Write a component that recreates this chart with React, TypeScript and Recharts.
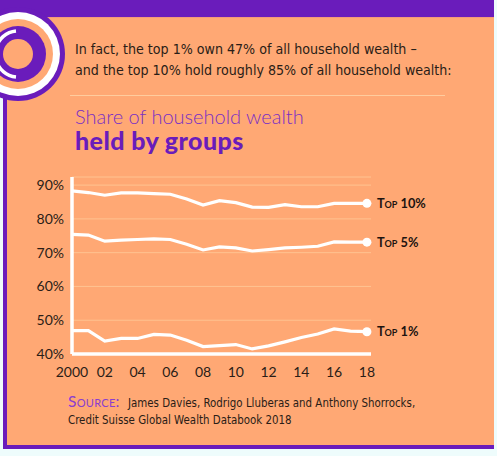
import React from 'react'
import { LineChart, Line, XAxis, YAxis, CartesianGrid } from 'recharts'

const years = [2000, 2001, 2002, 2003, 2004, 2005, 2006, 2007, 2008, 2009, 2010, 2011, 2012, 2013, 2014, 2015, 2016, 2017, 2018]
const top10 = [88.3, 87.8, 87.0, 87.7, 87.7, 87.5, 87.3, 85.9, 84.1, 85.4, 84.8, 83.5, 83.4, 84.2, 83.6, 83.6, 84.6, 84.6, 84.6]
const top5 = [75.4, 75.2, 73.4, 73.7, 73.9, 74.1, 73.9, 72.5, 70.8, 71.7, 71.4, 70.5, 70.9, 71.4, 71.6, 71.9, 73.2, 73.1, 73.1]
const top1 = [46.9, 46.9, 43.8, 44.6, 44.6, 45.8, 45.6, 44.1, 42.2, 42.5, 42.8, 41.5, 42.4, 43.6, 44.9, 45.9, 47.4, 46.8, 46.6]

const xTicks = [2000, 2002, 2004, 2006, 2008, 2010, 2012, 2014, 2016, 2018]
const yTicks = [40, 50, 60, 70, 80, 90]

const ORANGE = '#FFA874'
const PURPLE = '#6A1CBB'
const INK = '#2a1d17'
const BG = '#EEFCFC'
const NARROW = "'DejaVu Sans Condensed', 'DejaVu Sans', sans-serif"

const data = years.map((year, i) => ({ year, top10: top10[i], top5: top5[i], top1: top1[i] }))

const fmtYear = (y: number) => (y === 2000 ? '2000' : String(y).slice(2))

// only the last point gets a dot and its label
const endDot = (label: string) => (props: any) => {
  const { cx, cy, index } = props
  if (index !== years.length - 1) return <g key={`${label}-${index}`} />
  return (
    <g key={`${label}-${index}`}>
      <circle cx={cx} cy={cy} r={4.5} fill="#fff" />
      <text x={cx + 10} y={cy} dy="0.36em" fill="#1d1410" fontSize={12.8} fontWeight={700}
        fontFamily="Lato, sans-serif" style={{ fontVariant: 'small-caps' }}>{label}</text>
    </g>
  )
}

function Backdrop() {
  return (
    <svg width={497} height={456} style={{ position: 'absolute', left: 0, top: 0 }}>
      <rect x={0} y={0} width={497} height={456} fill={BG} />
      <rect x={3} y={17} width={491} height={432} fill={PURPLE} />
      <rect x={7} y={17} width={487} height={428} fill={ORANGE} />
      <rect x={0} y={0} width={494} height={17} fill={PURPLE} />
      <line x1={7} y1={17.5} x2={494} y2={17.5} stroke="#f39a7a" strokeWidth={1} />
      {/* round badge, top left */}
      <circle cx={18} cy={54} r={47} fill={PURPLE} />
      <circle cx={18} cy={54} r={42} fill="#fff" />
      <circle cx={18} cy={54} r={35} fill={ORANGE} />
      <circle cx={18} cy={54} r={28} fill={PURPLE} />
      <circle cx={18} cy={54} r={15} fill={ORANGE} />
      <path d="M 16 31 A 23 23 0 0 0 -4 48" stroke="#fff" strokeWidth={3.5} fill="none" />
      <path d="M -4 60 A 23 23 0 0 0 16 77" stroke="#fff" strokeWidth={3.5} fill="none" />

      <g fontFamily={NARROW} fill={INK} fontSize={14.1}>
        <text x={75} y={54}>In fact, the top 1% own 47% of all household wealth –</text>
        <text x={75} y={75}>and the top 10% hold roughly 85% of all household wealth:</text>
      </g>
      <line x1={70} y1={95.5} x2={445} y2={95.5} stroke="#FFCC9E" strokeWidth={1} />
      <text x={75} y={124} fontFamily="Lato, sans-serif" fontWeight={300} fontSize={20} fill="#7A2FC4">Share of household wealth</text>
      <text x={75} y={150} fontFamily="Lato, sans-serif" fontWeight={900} fontSize={25} letterSpacing={0.4} fill={PURPLE}>held by groups</text>

      <g fontFamily={NARROW} fontSize={11.4}>
        <text x={68} y={407} fill="#8a3dd0" fontFamily="Lato, sans-serif" fontSize={15.5} letterSpacing={0.3}
          style={{ fontVariant: 'small-caps' }}>Source:</text>
        <text x={128} y={407} fill={INK}>James Davies, Rodrigo Lluberas and Anthony Shorrocks,</text>
        <text x={68} y={424} fill={INK}>Credit Suisse Global Wealth Databook 2018</text>
      </g>
    </svg>
  )
}

export default function App() {
  const tick = { fill: INK, fontSize: 14, fontFamily: 'Lato, sans-serif' }
  const axisLine = { stroke: '#fff', strokeWidth: 3.5 }
  return (
    <div style={{ position: 'relative', width: 497, height: 456, overflow: 'hidden' }}>
      <style>{'body{margin:0}'}</style>
      <Backdrop />
      <div style={{ position: 'absolute', left: 0, top: 0 }}>
        <LineChart width={497} height={456} data={data} margin={{ top: 177, right: 126, bottom: 72, left: 0 }}>
          <CartesianGrid vertical={false} stroke="#FFC391" strokeWidth={1} />
          <XAxis dataKey="year" type="number" domain={[2000, 2018.25]} ticks={xTicks} tickFormatter={fmtYear}
            axisLine={axisLine} tickLine={false} tick={tick} tickMargin={7} height={30} interval={0} />
          <YAxis type="number" domain={[40, 92.4]} ticks={yTicks} tickFormatter={(v: number) => `${v}%`}
            width={72} axisLine={axisLine} tickLine={false} tick={tick} interval={0} />
          <Line dataKey="top10" type="linear" stroke="#fff" strokeWidth={3.2} dot={endDot('Top 10%')} activeDot={false} isAnimationActive={false} />
          <Line dataKey="top5" type="linear" stroke="#fff" strokeWidth={3.2} dot={endDot('Top 5%')} activeDot={false} isAnimationActive={false} />
          <Line dataKey="top1" type="linear" stroke="#fff" strokeWidth={3.2} dot={endDot('Top 1%')} activeDot={false} isAnimationActive={false} />
        </LineChart>
      </div>
    </div>
  )
}
